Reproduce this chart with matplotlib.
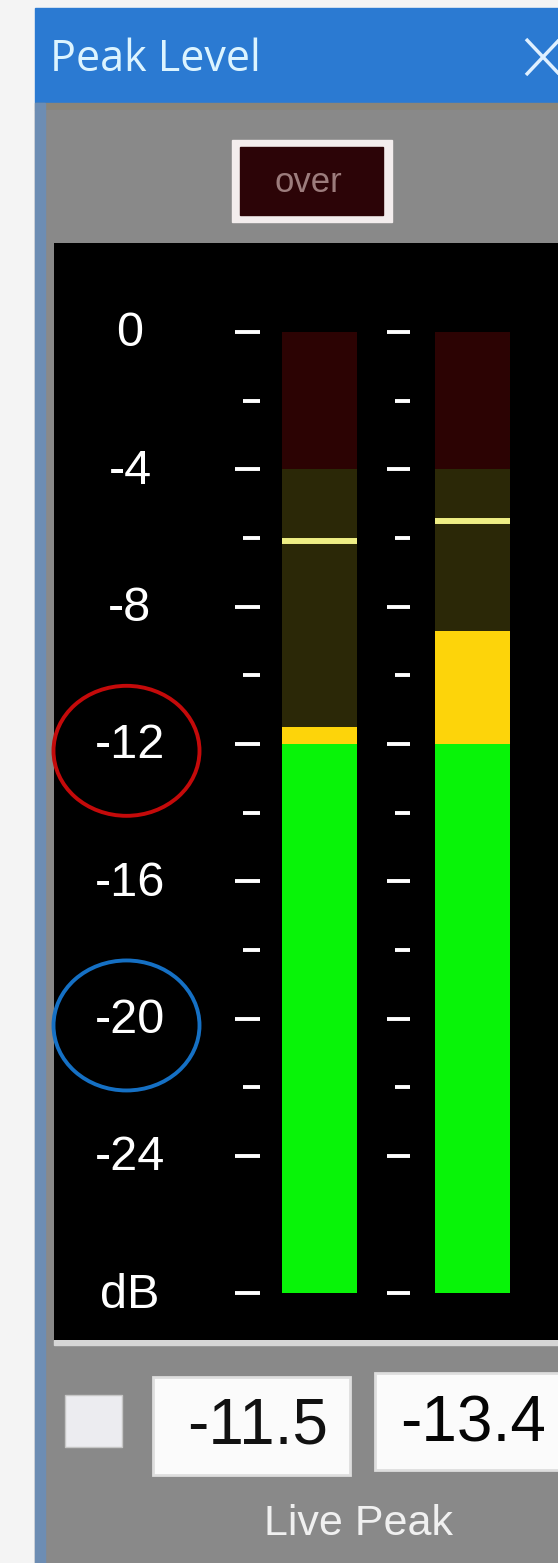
import matplotlib
matplotlib.use('Agg')
import matplotlib.pyplot as plt
from matplotlib.patches import Rectangle, Ellipse

W, H = 558, 1563

# meter values in dB
channels = ['L', 'R']
levels = [-11.5, -8.7]
peaks = [-6.1, -5.5]
readouts = [-11.5, -13.4]
major_ticks = [0, -4, -8, -12, -16, -20, -24, -28]
tick_labels = ['0', '-4', '-8', '-12', '-16', '-20', '-24', 'dB']
minor_ticks = [-2, -6, -10, -14, -18, -22]
zone_edges = [-28, -12, -4, 0]
circled = [-12, -20]

FONT = 'Liberation Sans'

fig = plt.figure(figsize=(W / 100, H / 100), dpi=100)
fig.patch.set_facecolor('#f4f4f4')

# window chrome, in pixel coords
ui = fig.add_axes([0, 0, 1, 1])
ui.set_xlim(0, W)
ui.set_ylim(H, 0)
ui.axis('off')

ui.add_patch(Rectangle((35, 8), W - 35, 95, color='#2b7ad2'))
ui.add_patch(Rectangle((35, 103), W - 35, 7, color='#8a8579'))
ui.add_patch(Rectangle((35, 110), W - 35, H - 110, color='#898989'))
ui.add_patch(Rectangle((35, 103), 10, H - 103, color='#6d8db3'))
ui.text(50, 71, 'Peak Level', family='Open Sans', fontsize=31,
        color='#dcf4ff', ha='left', va='baseline')
ui.plot([526, 560], [39, 75], color='#dff0ff', lw=2.5, solid_capstyle='butt')
ui.plot([526, 560], [75, 39], color='#dff0ff', lw=2.5, solid_capstyle='butt')

# "over" indicator
ui.add_patch(Rectangle((232, 140), 160, 82, color='#f3eded'))
ui.add_patch(Rectangle((240, 147), 143, 68, color='#2c0407'))
ui.text(308, 183, 'over', family=FONT, fontsize=25, color='#9c7c7c',
        ha='center', va='center')

# frame line below the meter
ui.add_patch(Rectangle((54, 1340), W - 54, 5, color='#d6d6d6'))

# bottom readouts
ui.add_patch(Rectangle((65, 1395), 57, 52, facecolor='#ececf0', edgecolor='#c6c6c6', lw=1))
ui.add_patch(Rectangle((153, 1377), 197, 98, facecolor='#fbfbfb', edgecolor='#dedede', lw=2))
ui.add_patch(Rectangle((375, 1373), 200, 97, facecolor='#fbfbfb', edgecolor='#dedede', lw=2))
ui.text(258, 1443, f'{readouts[0]:.1f}', family=FONT, fontsize=46, color='#111111',
        ha='center', va='baseline')
ui.text(400, 1442, f'{readouts[1]:.1f}', family=FONT, fontsize=46, color='#050505',
        ha='left', va='baseline')
ui.text(358, 1535, 'Live Peak', family=FONT, fontsize=31, color='#f0f0f0',
        ha='center', va='baseline')

# meter area, y axis in dB
top_px, bot_px, zero_px, px_per_db = 243, 1340, 332, 34.33
ax = fig.add_axes([54 / W, (H - bot_px) / H, (W - 54) / W, (bot_px - top_px) / H])
ax.set_facecolor('black')
ax.set_xlim(54, W)
ax.set_ylim(-(bot_px - zero_px) / px_per_db, (zero_px - top_px) / px_per_db)
for s in ax.spines.values():
    s.set_visible(False)
ax.set_xticks([])
ax.set_yticks([])

bar_x = [319.5, 472.5]
bar_w = 75
dim_colors = ['#032403', '#2b2807', '#2c0303']
lit_colors = ['#08f408', '#fdd40a', '#ff2020']

for x, lvl, pk in zip(bar_x, levels, peaks):
    for lo, hi, dc, lc in zip(zone_edges[:-1], zone_edges[1:], dim_colors, lit_colors):
        ax.bar(x, hi - lo, bottom=lo, width=bar_w, color=dc)
        if lvl > lo:
            ax.bar(x, min(lvl, hi) - lo, bottom=lo, width=bar_w, color=lc)
    ax.hlines(pk, x - bar_w / 2, x + bar_w / 2, color='#eeee84', lw=4.3)

# scale marks, two columns
for left, right in [(235, 260), (387, 410)]:
    ax.hlines(major_ticks, left, right, color='white', lw=2.8)
    ax.hlines(minor_ticks, left + 8, right, color='white', lw=2.8)

for v, lab in zip(major_ticks, tick_labels):
    ax.text(130, v - 0.42, lab, family=FONT, fontsize=35, color='white',
            ha='center', va='baseline')

# highlight rings around two scale labels
for v, c in zip(circled, ['#c40a0a', '#1570c4']):
    ax.add_patch(Ellipse((126.5, v - 0.2), 146, 130 / px_per_db, fill=False,
                         edgecolor=c, lw=2.8, clip_on=False))

fig.savefig('out.png', dpi=100)
